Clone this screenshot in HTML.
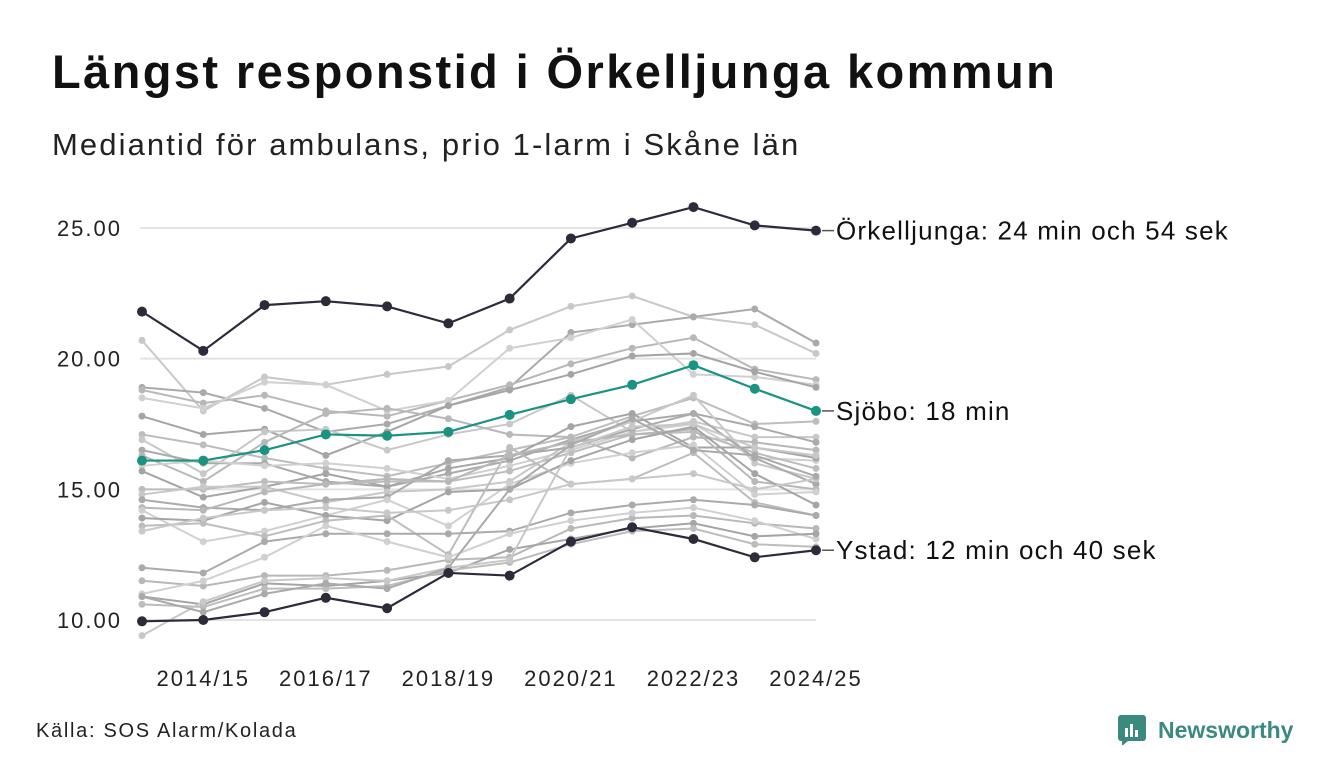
<!DOCTYPE html>
<html><head><meta charset="utf-8">
<style>
body{margin:0;width:1340px;height:780px;background:#fff;font-family:"Liberation Sans",sans-serif;overflow:hidden;position:relative}
h1{position:absolute;left:52px;top:44px;margin:0;font-size:47px;letter-spacing:2.4px;font-weight:bold;color:#111;white-space:nowrap}
.sub{position:absolute;left:52px;top:127px;font-size:31px;letter-spacing:2.1px;color:#222;white-space:nowrap}
.src{position:absolute;left:36px;top:720px;font-size:20px;letter-spacing:1.7px;color:#222}
.logo{position:absolute;left:1118px;top:715px;display:flex;align-items:center;gap:10px;color:#3a8a80;font-weight:bold;font-size:23px}
svg{position:absolute;left:0;top:0}
</style></head><body>
<h1>Längst responstid i Örkelljunga kommun</h1>
<div class="sub">Mediantid för ambulans, prio 1-larm i Skåne län</div>
<div class="src">Källa: SOS Alarm/Kolada</div>
<div class="logo"><svg style="position:static" width="30" height="30" viewBox="0 0 30 30"><rect x="0" y="0" width="28" height="26" rx="3" fill="#3a8a80"/><polygon points="4,26 10,26 4,31" fill="#3a8a80"/><rect x="7" y="13" width="3" height="9" fill="#fff"/><rect x="12" y="9" width="3" height="13" fill="#fff"/><rect x="17" y="15" width="3" height="7" fill="#fff"/></svg><span>Newsworthy</span></div>
<svg id="chart" width="1340" height="780"></svg>
<script>
const categories=["2013/14","2014/15","2015/16","2016/17","2017/18","2018/19","2019/20","2020/21","2021/22","2022/23","2023/24","2024/25"];
const yTicks=[10,15,20,25];
const tickLabels=["10.00","15.00","20.00","25.00"];
const xLabelIdx=[1,3,5,7,9,11];
const orkelljunga=[21.8,20.3,22.05,22.2,22.0,21.35,22.3,24.6,25.2,25.8,25.1,24.9];
const sjobo=[16.1,16.1,16.5,17.1,17.05,17.2,17.85,18.45,19.0,19.75,18.85,18.0];
const ystad=[9.95,10.0,10.3,10.85,10.45,11.8,11.7,13.0,13.55,13.1,12.4,12.67];
const others=[
[20.7,18.0,19.3,19.0,19.4,19.7,21.1,22.0,22.4,21.6,21.3,20.2],
[18.9,18.7,18.1,17.2,17.5,18.2,18.9,21.0,21.3,21.6,21.9,20.6],
[18.8,18.3,18.6,18.0,17.8,18.4,19.0,19.8,20.4,20.8,19.6,19.2],
[18.5,18.1,19.1,19.0,18.0,18.4,20.4,20.8,21.5,19.4,19.3,19.0],
[17.8,17.1,17.3,16.3,17.2,18.2,18.8,19.4,20.1,20.2,19.5,18.9],
[17.1,16.7,16.2,15.8,15.5,16.0,16.5,17.0,17.8,18.5,17.5,17.6],
[16.9,15.6,17.2,17.3,16.5,17.1,17.5,18.6,17.2,17.6,17.0,17.0],
[16.5,16.0,16.0,15.3,15.1,15.6,16.1,16.9,17.6,17.9,17.4,16.8],
[16.3,15.3,16.8,17.9,18.1,17.7,17.1,17.0,16.2,17.0,16.8,16.5],
[15.9,16.1,15.9,16.0,15.8,15.4,15.9,16.5,17.2,17.5,16.2,16.1],
[15.7,14.7,15.1,15.6,15.1,15.8,16.2,17.4,17.9,16.6,16.6,16.2],
[15.0,15.0,15.3,15.2,15.3,15.3,15.7,16.4,17.1,17.2,16.4,15.8],
[14.8,15.1,15.1,14.5,14.9,15.0,15.3,16.8,17.6,18.6,16.0,15.4],
[14.6,14.3,14.2,14.6,14.7,16.1,16.3,16.6,17.3,17.9,16.2,15.2],
[14.3,14.2,14.9,15.2,15.4,15.3,16.3,16.8,17.1,17.3,15.3,15.0],
[14.2,13.0,13.4,14.0,14.6,13.6,15.2,16.0,16.4,16.7,14.8,14.9],
[13.9,13.8,14.5,14.0,13.8,14.9,15.0,16.1,16.9,17.4,15.6,14.4],
[13.6,13.7,13.2,13.8,14.0,12.5,16.6,15.2,15.4,16.4,14.5,14.0],
[13.4,13.9,14.2,14.3,14.1,14.2,14.6,15.2,15.4,15.6,15.0,15.4],
[12.0,11.8,13.0,13.3,13.3,13.3,13.4,14.1,14.4,14.6,14.4,14.0],
[11.5,11.3,11.7,11.7,11.9,12.3,12.4,13.5,13.9,14.0,13.7,13.5],
[11.0,11.5,12.4,13.6,13.0,12.4,13.3,13.8,14.1,14.3,13.8,13.1],
[10.9,10.6,11.4,11.3,11.5,11.8,12.7,13.1,13.5,13.7,13.2,13.3],
[10.6,10.5,11.2,11.2,11.3,11.9,12.2,12.9,13.4,13.5,12.9,12.8],
[9.4,10.7,11.5,11.6,11.5,12.0,12.3,16.6,17.4,17.5,16.6,16.3],
[10.9,10.3,11.0,11.4,11.2,12.0,15.0,16.7,17.7,16.5,16.3,15.5]
];
const colors=["#c8c8c8","#aaaaaa","#b8b8b8","#d0d0d0","#a5a5a5","#bdbdbd"];
const svg=document.getElementById('chart');
const NS='http://www.w3.org/2000/svg';
const x0=142,x1=816,yBase=620,yTop=228;
const xs=i=>x0+(x1-x0)*i/(categories.length-1);
const ys=v=>yBase-(v-10)/(25-10)*(yBase-yTop);
function mk(t,a){const e=document.createElementNS(NS,t);for(const k in a)e.setAttribute(k,a[k]);svg.appendChild(e);return e;}
yTicks.forEach((t,i)=>{
 const g=mk('line',{x1:140,x2:816,y1:ys(t),y2:ys(t),stroke:'#e3e3e3','stroke-width':2});
 
 
 const l=mk('text',{x:122,y:ys(t)+8,'text-anchor':'end','font-size':22,'letter-spacing':'2px',fill:'#222'});
 l.textContent=tickLabels[i];
 
 
});
xLabelIdx.forEach(i=>{
 const l=mk('text',{x:xs(i),y:686,'text-anchor':'middle','font-size':22,'letter-spacing':'2px',fill:'#222'});
 l.textContent=categories[i];
 
 
});
function series(vals,color,w,r,name){
 const p=mk('polyline',{points:vals.map((v,i)=>xs(i)+','+ys(v)).join(' '),fill:'none',stroke:color,'stroke-width':w});
 
 
 vals.forEach((v,i)=>{
  const c=mk('circle',{cx:xs(i),cy:ys(v),r:r,fill:color});
  
  
 });
}
others.forEach((s,k)=>series(s,colors[k%colors.length],2,3.5,'municipality'));
series(sjobo,'#1a9383',2.2,5,'sjobo');
series(ystad,'#2b2b3a',2.2,5,'ystad');
series(orkelljunga,'#2b2b3a',2.2,5,'orkelljunga');
function lab(v,txt,name){
 const ln=mk('line',{x1:x1+6,x2:x1+18,y1:ys(v),y2:ys(v),stroke:'#555','stroke-width':1.5});
 
 
 const t=mk('text',{x:x1+20,y:ys(v)+9,'font-size':26,'letter-spacing':'1.2px',fill:'#111'});
 t.textContent=txt;
 
 
}
lab(orkelljunga[11],'Örkelljunga: 24 min och 54 sek','orkelljunga');
lab(sjobo[11],'Sjöbo: 18 min','sjobo');
lab(ystad[11],'Ystad: 12 min och 40 sek','ystad');
</script>
</body></html>
